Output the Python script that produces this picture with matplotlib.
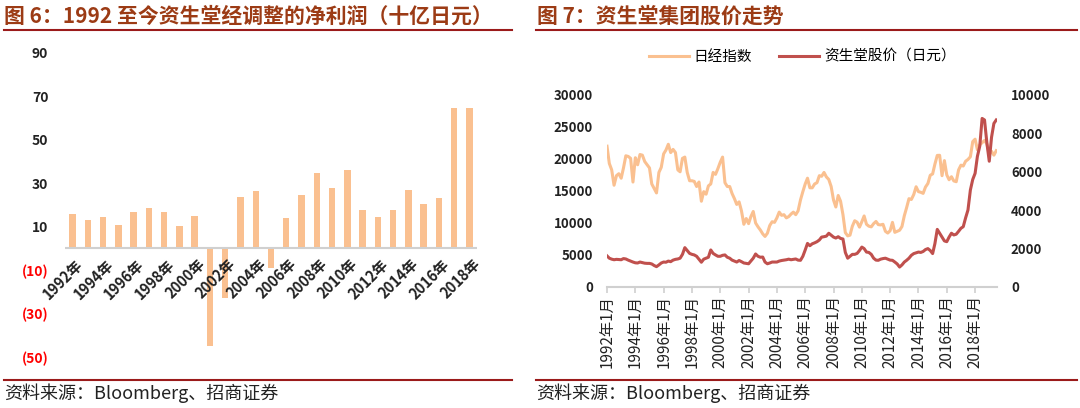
import pandas as pd
import numpy as np
import matplotlib.pyplot as plt
from matplotlib.lines import Line2D

plt.rcParams["font.family"] = ["Noto Sans CJK SC", "DejaVu Sans"]

# ---- 图6 data: adjusted net profit (bn JPY)
years = [str(y) for y in range(1992, 2019)]
profit = [15.8, 13.0, 14.4, 11.0, 17.0, 18.7, 16.6, 10.1, 14.9, -45.1,
          -22.8, 23.9, 26.4, -9.0, 13.9, 24.7, 34.9, 27.7, 35.9, 17.8,
          14.4, 17.5, 26.8, 20.4, 23.4, 64.5, 64.5]

# ---- 图7 data: bi-monthly, Jan 1992 - Jul 2019
nikkei = [
    22000, 19300, 18300, 15900, 17400, 17700,
    17000, 18600, 20500, 20400, 20100, 16400,
    20200, 19100, 20700, 20600, 19600, 19100,
    18600, 16100, 15400, 14700, 17900, 18700,
    20800, 21400, 22300, 21000, 21500, 21000,
    18300, 18000, 20100, 20300, 17900, 16600,
    16600, 16500, 15700, 16400, 13400, 14900,
    14500, 15800, 16100, 17900, 17600, 18500,
    19500, 20300, 16300, 15700, 15700, 14600,
    13800, 12900, 13300, 11900, 9800, 10700,
    9900, 11000, 11800, 10000, 9400, 8900,
    8300, 7900, 8400, 9600, 10200, 10100,
    10800, 11700, 11200, 11300, 10800, 11000,
    11400, 11700, 11300, 11900, 13600, 14900,
    16100, 17000, 15500, 15500, 16100, 16300,
    17400, 17300, 17900, 17200, 16800, 15700,
    13600, 12500, 14300, 13400, 11300, 8500,
    7990, 8100, 9500, 10350, 10130, 9350,
    10200, 11100, 9800, 9500, 9400, 9900,
    10240, 9750, 9700, 9800, 8700, 8430,
    8800, 10100, 8540, 8700, 8870, 9450,
    11140, 12400, 13800, 13670, 14450, 15660,
    14900, 14800, 14630, 15620, 16170, 17460,
    17670, 19200, 20560, 20580, 17390, 19750,
    17520, 16760, 17230, 16570, 16450, 18300,
    19040, 18900, 19650, 19930, 20350, 22720,
    23100, 21450, 22200, 22550, 22900, 22350,
    20770, 21200, 20600, 21300,
]
shiseido = [
    1620, 1500, 1450, 1420, 1440, 1430,
    1420, 1480, 1460, 1400, 1350, 1300,
    1260, 1250, 1300, 1270, 1240, 1230,
    1230, 1200, 1120, 1060, 1150, 1250,
    1300, 1290, 1350, 1320, 1400, 1440,
    1460, 1500, 1700, 2050, 1900, 1750,
    1700, 1670, 1600, 1450, 1290, 1450,
    1500, 1550, 1930, 1750, 1670, 1600,
    1600, 1650, 1670, 1550, 1500, 1400,
    1350, 1300, 1380, 1320, 1250, 1230,
    1210, 1350, 1500, 1720, 1600, 1550,
    1560, 1300, 1210, 1250, 1300, 1300,
    1300, 1350, 1380, 1400, 1420, 1450,
    1420, 1440, 1460, 1400, 1390, 1600,
    1930, 2270, 2150, 2250, 2300, 2360,
    2450, 2600, 2620, 2650, 2800, 2700,
    2600, 2550, 2620, 2530, 2500, 1800,
    1500, 1600, 1700, 1700, 1750, 1900,
    2080, 2000, 1820, 1800, 1700, 1500,
    1400, 1390, 1450, 1480, 1500, 1450,
    1400, 1390, 1300, 1200, 1040, 1150,
    1300, 1390, 1500, 1650, 1740, 1780,
    1820, 1800, 1850, 1950, 2000, 1900,
    1740, 2260, 3000, 2800, 2600, 2400,
    2360, 2600, 2800, 2710, 2750, 2900,
    3060, 3140, 3600, 4010, 5050, 5600,
    5920, 6800, 7330, 8780, 8700, 7500,
    6550, 7800, 8520, 8700,
]
dates = pd.date_range("1992-01-01", periods=len(nikkei), freq="2MS")

BAR = "#FAC090"
RED = "#C0504D"
TITLE = "#9C3B15"
RULE = "#9B1B1B"
GRID = "#D0D0D0"

fig = plt.figure(figsize=(10.8, 4.08), dpi=100)

# titles and rules
fig.text(4 / 1080, 1 - 16 / 408, "图 6：1992 至今资生堂经调整的净利润（十亿日元）",
         fontsize=15, fontweight="bold", color=TITLE, va="center", ha="left")
fig.text(537 / 1080, 1 - 16 / 408, "图 7：资生堂集团股价走势",
         fontsize=15, fontweight="bold", color=TITLE, va="center", ha="left")
for x0, x1 in [(4, 512), (536, 1077)]:
    for y in (30, 380):
        fig.add_artist(Line2D([x0 / 1080, x1 / 1080], [1 - y / 408, 1 - y / 408],
                              color=RULE, lw=1.5, transform=fig.transFigure))
    fig.text(x0 / 1080, 1 - 393 / 408, "资料来源：Bloomberg、招商证券",
             fontsize=13, color="#222222", va="center", ha="left")

# ---- left: bar chart
ax1 = fig.add_axes([65 / 1080, 51 / 408, 412 / 1080, 304 / 408])
x = np.arange(len(years))
ax1.bar(x, profit, width=0.42, color=BAR)
ax1.axhline(0, color=GRID, lw=1.5, zorder=3)
ax1.set_xlim(-0.5, len(years) - 0.5)
ax1.set_ylim(-50, 90)
yt = list(range(-50, 91, 20))
ax1.set_yticks(yt)
ax1.set_yticklabels([f"({abs(v)})" if v < 0 else str(v) for v in yt],
                    fontsize=10, fontweight="bold")
for lab, v in zip(ax1.get_yticklabels(), yt):
    lab.set_color("#FF0000" if v < 0 else "#222222")
ax1.tick_params(axis="y", length=0, pad=12)
ax1.set_xticks([])
for s in ax1.spines.values():
    s.set_visible(False)
for i, yr in enumerate(years):
    if i % 2 == 0:
        ax1.text(i + 0.15, -3.5, yr + "年", rotation=45, rotation_mode="anchor",
                 ha="right", va="top", fontsize=10.5, fontweight="bold",
                 color="#222222")

# ---- right: line chart
ax2 = fig.add_axes([607 / 1080, 121 / 408, 390 / 1080, 192 / 408])
ax3 = ax2.twinx()
l1, = ax2.plot(dates, nikkei, color=BAR, lw=2.2, label="日经指数")
l2, = ax3.plot(dates, shiseido, color=RED, lw=2.2, label="资生堂股价（日元）")
ax2.set_ylim(0, 30000)
ax3.set_ylim(0, 10000)
ax2.set_yticks(range(0, 30001, 5000))
ax3.set_yticks(range(0, 10001, 2000))
ax2.set_xlim(pd.Timestamp("1992-01-01"), pd.Timestamp("2019-07-20"))
xt = [pd.Timestamp(f"{y}-01-01") for y in range(1992, 2019, 2)]
ax2.set_xticks(xt)
ax2.set_xticklabels([f"{t.year}年1月" for t in xt], rotation=90, fontsize=11,
                    color="#222222")
for ax in (ax2, ax3):
    for s in ax.spines.values():
        s.set_visible(False)
ax2.spines["bottom"].set_visible(True)
ax2.spines["bottom"].set_color(GRID)
ax2.spines["bottom"].set_linewidth(1.5)
ax2.tick_params(axis="x", length=4, width=1.2, color=GRID, pad=2)
ax2.tick_params(axis="y", length=0, pad=10, labelsize=9.5)
ax3.tick_params(axis="y", length=0, pad=10, labelsize=9.5)
for lab in ax2.get_yticklabels() + ax3.get_yticklabels():
    lab.set_fontweight("bold")
    lab.set_color("#222222")
ax2.legend(handles=[l1, l2], loc="center", bbox_to_anchor=(0.5, 1.2), ncol=2,
           frameon=False, fontsize=10.5, handlelength=2.8, handletextpad=0.3,
           columnspacing=1.8)

fig.savefig("out.png", dpi=100)
